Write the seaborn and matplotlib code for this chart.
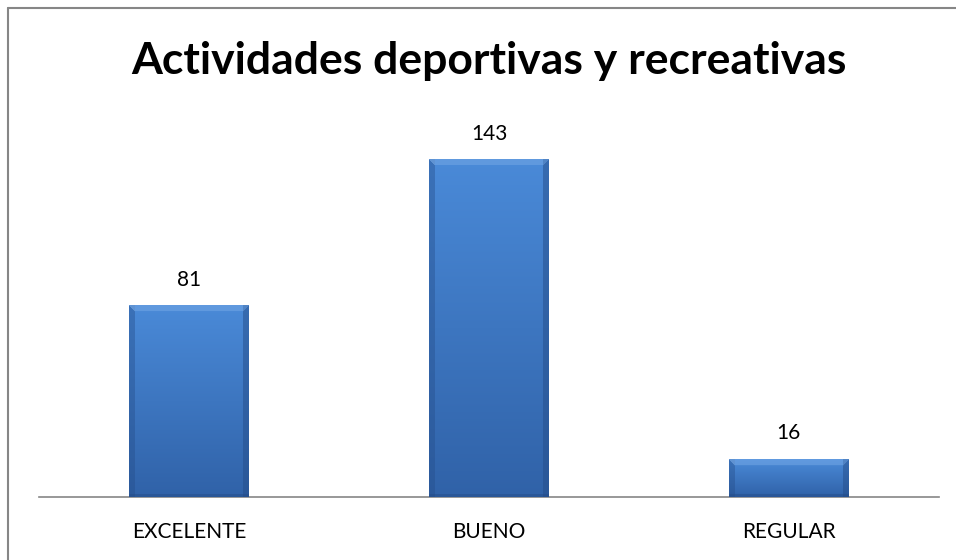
import numpy as np
import pandas as pd
import seaborn as sns
import matplotlib.pyplot as plt
from matplotlib.lines import Line2D

categories = ['EXCELENTE', 'BUENO', 'REGULAR']
values = [81, 143, 16]
title = 'Actividades deportivas y recreativas'

sns.set_style('white')
plt.rcParams['font.family'] = ['Lato', 'DejaVu Sans']

df = pd.DataFrame({'cat': categories, 'val': values})

fig = plt.figure(figsize=(9.56, 5.6), dpi=100)
ax = fig.add_axes([0.041, 0.1125, 0.941, 0.674])
sns.barplot(data=df, x='cat', y='val', color='#3f78c4', width=0.4, ax=ax,
            saturation=1)
ax.set_ylim(0, 160)
ax.set_xlim(-0.5, 2.5)

top_c = np.array([0x4a, 0x8a, 0xd8]) / 255
bot_c = np.array([0x30, 0x62, 0xa8]) / 255
light = np.array([0x78, 0xaa, 0xe6]) / 255
dark = np.array([0x24, 0x4c, 0x88]) / 255

for p in ax.patches:
    x0, w, h = p.get_x(), p.get_width(), p.get_height()
    nx = 120
    ny = max(int(h * 2.357), 10)
    t = np.linspace(0, 1, ny)[:, None, None]
    img = top_c * (1 - t) + bot_c * t
    img = np.repeat(img, nx, axis=1)
    b = 6
    # bevel: darker sides, lighter top
    img[:, :b] = img[:, :b] * 0.6 + dark * 0.4
    img[:, -b:] = img[:, -b:] * 0.5 + dark * 0.5
    img[-3:, :] = img[-3:, :] * 0.5 + dark * 0.5
    img[:b, b:-b] = img[:b, b:-b] * 0.5 + light * 0.5
    for i in range(b):
        img[i, i:b] = light * 0.6 + img[i, i:b] * 0.4
        img[i, nx - b:nx - i] = light * 0.4 + img[i, nx - b:nx - i] * 0.6
    ax.imshow(img, extent=[x0, x0 + w, 0, h], aspect='auto', zorder=3,
              interpolation='bilinear')
    p.set_zorder(2)

ax.set_xlim(-0.5, 2.5)
ax.set_ylim(0, 160)

for i, v in enumerate(values):
    ax.text(i, v + 11, str(v), ha='center', va='center', fontsize=15,
            color='#000000')

ax.set_xlabel('')
ax.set_ylabel('')
ax.set_yticks([])
ax.tick_params(axis='x', length=0, pad=18, labelsize=15, colors='#000000')
for s in ['top', 'right', 'left']:
    ax.spines[s].set_visible(False)
ax.spines['bottom'].set_color('#868686')
ax.spines['bottom'].set_linewidth(1.2)

fig.text(0.511, 0.891, title, ha='center', va='center', fontsize=32,
         fontweight='bold', color='#000000')

fig.add_artist(Line2D([8 / 956, 1], [1 - 8 / 560, 1 - 8 / 560],
                      transform=fig.transFigure, color='#868686', lw=1.5))
fig.add_artist(Line2D([8 / 956, 8 / 956], [0, 1 - 8 / 560],
                      transform=fig.transFigure, color='#868686', lw=1.5))

fig.savefig('out.png', dpi=100)
